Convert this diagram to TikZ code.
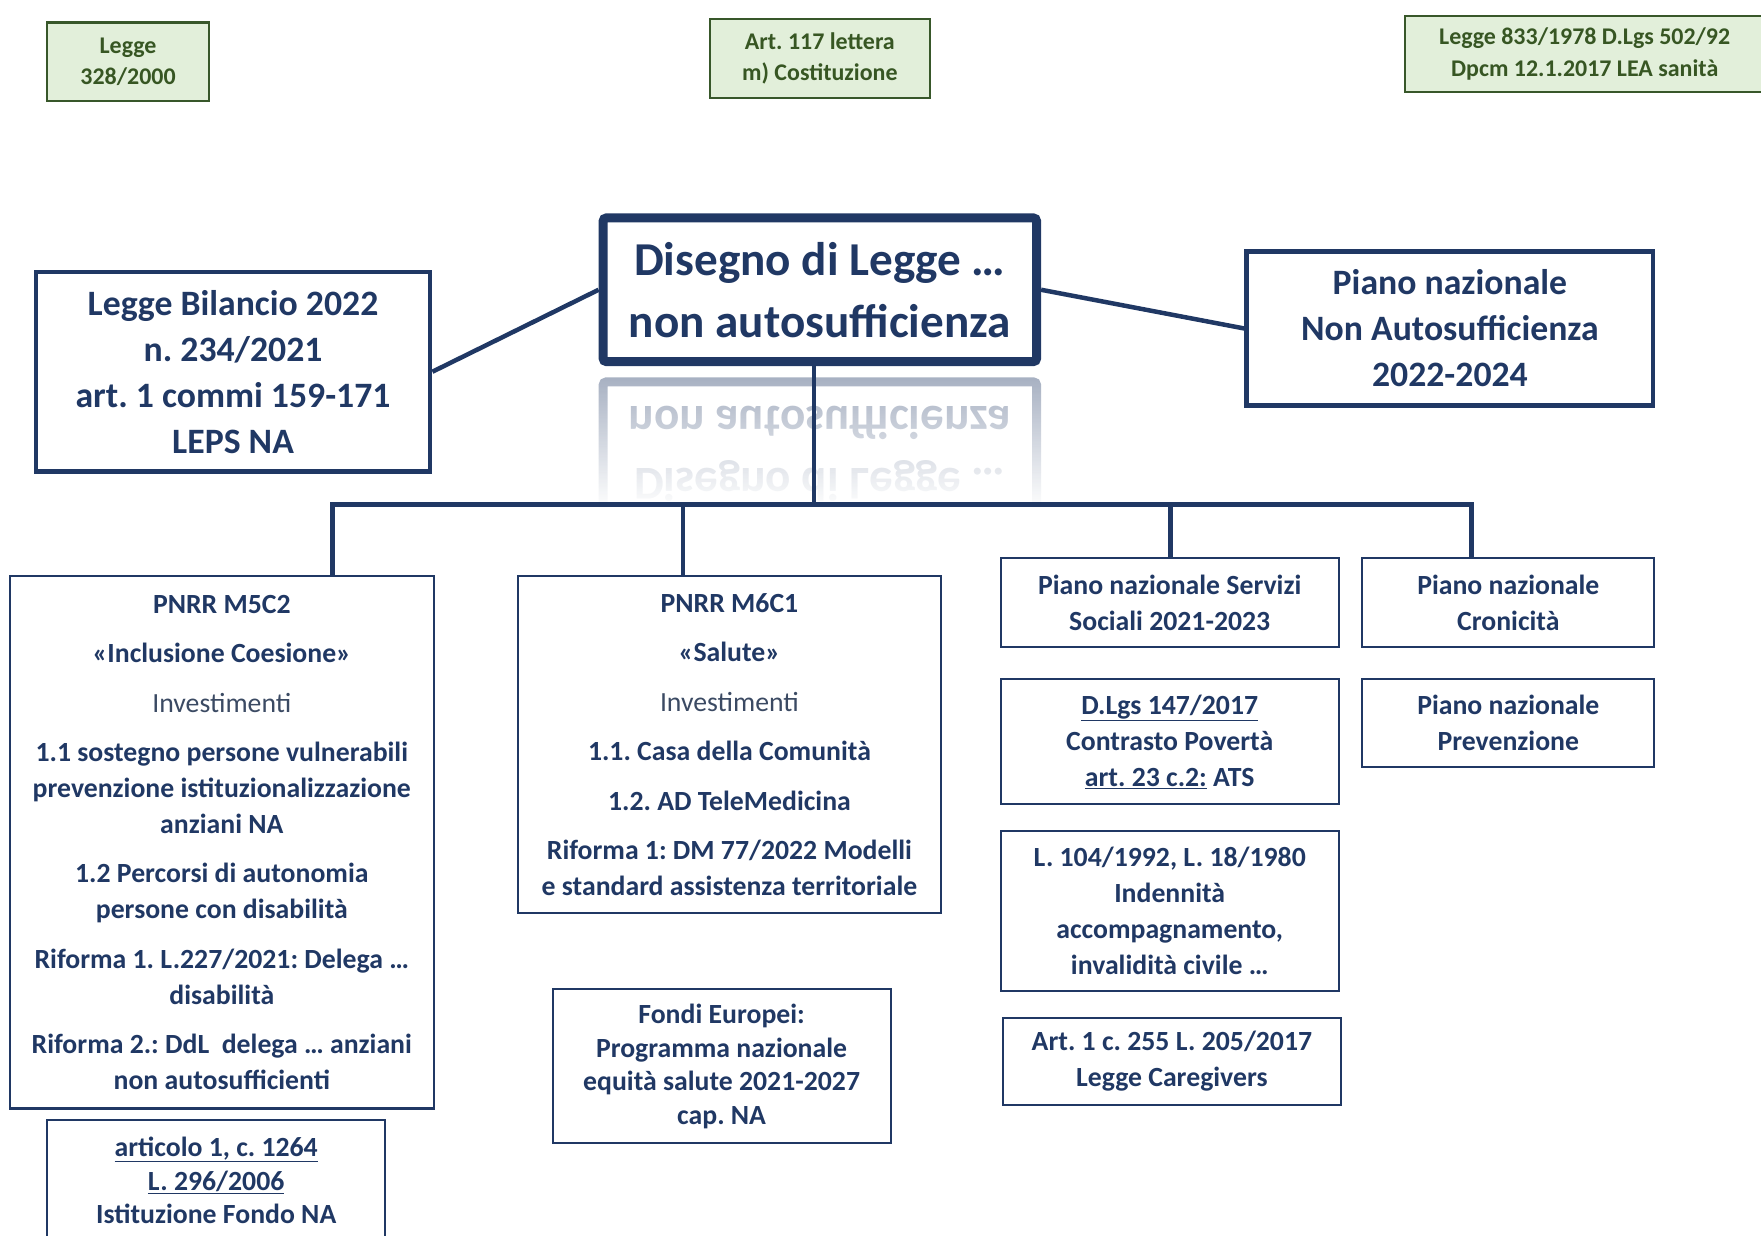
\documentclass[tikz,border=0pt]{standalone}
\usepackage{fontspec}
\setmainfont{Carlito}
\usetikzlibrary{fadings}
\definecolor{navy}{HTML}{203864}
\definecolor{gtext}{HTML}{375623}
\definecolor{gfill}{HTML}{E2EFDA}
\definecolor{gline}{HTML}{38572A}
\definecolor{slate}{HTML}{3B4A63}
\tikzfading[name=reflfade, top color=transparent!100, bottom color=transparent!0]
\frenchspacing
\begin{document}
\begin{tikzpicture}[x=1pt,y=-1pt,
  greenbox/.style={draw=gline, fill=gfill, text=gtext, line width=2pt, align=center, inner sep=0pt, font=\fontsize{21.3}{28}\selectfont\bfseries},
  mainbox/.style={draw=navy, text=navy, line width=8pt, rounded corners=3pt, align=center, inner sep=0pt, minimum width=386pt, minimum height=128pt, font=\fontsize{42}{55}\selectfont\bfseries},
  bigbox/.style={draw=navy, text=navy, line width=4pt, align=center, inner sep=0pt, font=\fontsize{31.8}{41}\selectfont\bfseries},
  smallbox/.style={draw=navy, text=navy, line width=1.8pt, align=center, inner sep=0pt, font=\fontsize{24.7}{32}\selectfont\bfseries},
  tightbox/.style={smallbox, font=\fontsize{24.7}{30}\selectfont\bfseries},
  link/.style={draw=navy, line width=4pt},
]
\useasboundingbox (0,0) rectangle (1568,1100);

% top green boxes
\node[greenbox, minimum width=144pt, minimum height=70pt] (g1) at (114,55) {Legge\\328/2000};
\node[greenbox, minimum width=196pt, minimum height=70pt] (g2) at (730,52) {Art. 117 lettera\\m) Costituzione};
\node[greenbox, minimum width=320pt, minimum height=68pt] (g3) at (1411,48) {Legge 833/1978 D.Lgs 502/92\\Dpcm 12.1.2017 LEA sanità};

% main box
\node[mainbox] (main) at (730,258) {Disegno di Legge …\\non autosufficienza};

% reflection
\begin{scope}
\clip (520,334) rectangle (940,452);
\begin{scope}[shift={(0,662)}, yscale=-1, transform shape, opacity=0.4]
\node[mainbox] (mainrefl) at (730,258) {Disegno di Legge …\\non autosufficienza};
\end{scope}
\fill[white, path fading=reflfade] (520,334) rectangle (940,452);
\end{scope}

% side boxes
\node[bigbox, minimum width=351pt, minimum height=178pt] (lb) at (207.5,331) {Legge Bilancio 2022\\n. 234/2021\\art. 1 commi 159-171\\LEPS NA};
\node[bigbox, minimum width=362pt, minimum height=137pt] (pn) at (1291,292.5) {Piano nazionale\\Non Autosufficienza\\2022-2024};

% lower boxes
\node[smallbox, minimum width=377pt, minimum height=474pt] (m5) at (197.5,750) {PNRR M5C2\\[12pt]«Inclusione Coesione»\\[12pt]{\mdseries\color{slate}Investimenti}\\[12pt]1.1 sostegno persone vulnerabili\\prevenzione istituzionalizzazione\\anziani NA\\[12pt]1.2 Percorsi di autonomia\\persone con disabilità\\[12pt]Riforma 1. L.227/2021: Delega …\\disabilità\\[12pt]Riforma 2.: DdL\ \ delega … anziani\\non autosufficienti};
\node[smallbox, minimum width=377pt, minimum height=300pt] (m6) at (649.5,663) {PNRR M6C1\\[12pt]«Salute»\\[12pt]{\mdseries\color{slate}Investimenti}\\[12pt]1.1. Casa della Comunità\\[12pt]1.2. AD TeleMedicina\\[12pt]Riforma 1: DM 77/2022 Modelli\\e standard assistenza territoriale};
\node[tightbox, minimum width=301pt, minimum height=108pt] (fna) at (192.5,1051) {\underline{articolo 1, c. 1264}\\\underline{L. 296/2006}\\Istituzione Fondo NA};
\node[tightbox, minimum width=301pt, minimum height=137pt] (fe) at (642.5,949.5) {Fondi Europei:\\Programma nazionale\\equità salute 2021-2027\\cap. NA};
\node[smallbox, minimum width=301pt, minimum height=79pt] (ss) at (1041.5,536.5) {Piano nazionale Servizi\\Sociali 2021-2023};
\node[smallbox, minimum width=301pt, minimum height=111pt] (dl) at (1041.5,660.5) {\underline{D.Lgs 147/2017}\\Contrasto Povertà\\\underline{art. 23 c.2:} ATS};
\node[smallbox, minimum width=301pt, minimum height=142pt] (l104) at (1041.5,811) {L. 104/1992, L. 18/1980\\Indennità\\accompagnamento,\\invalidità civile …};
\node[smallbox, minimum width=301pt, minimum height=78pt] (cg) at (1043.5,945) {Art. 1 c. 255 L. 205/2017\\Legge Caregivers};
\node[smallbox, minimum width=260pt, minimum height=79pt] (cr) at (1343,536.5) {Piano nazionale\\Cronicità};
\node[smallbox, minimum width=260pt, minimum height=78pt] (pr) at (1343,644) {Piano nazionale\\Prevenzione};

% connectors
\coordinate (busL) at (296,449);
\coordinate (busR) at (1310,449);
\coordinate (busA) at (608,449);
\coordinate (busB) at (1042,449);
\coordinate (mainfoot) at ([xshift=-5pt,yshift=4pt]main.south);
\draw[link] (lb.east) -- (main.west);
\draw[link] (main.east) -- (pn.west);
\draw[link] (mainfoot) -- (mainfoot |- busL);
\draw[link, line cap=rect] (busL) -- (busR);
\draw[link] (busL) -- (busL |- m5.north);
\draw[link] (busA) -- (busA |- m6.north);
\draw[link] (busB) -- (busB |- ss.north);
\draw[link] (busR) -- (busR |- cr.north);
\end{tikzpicture}
\end{document}
